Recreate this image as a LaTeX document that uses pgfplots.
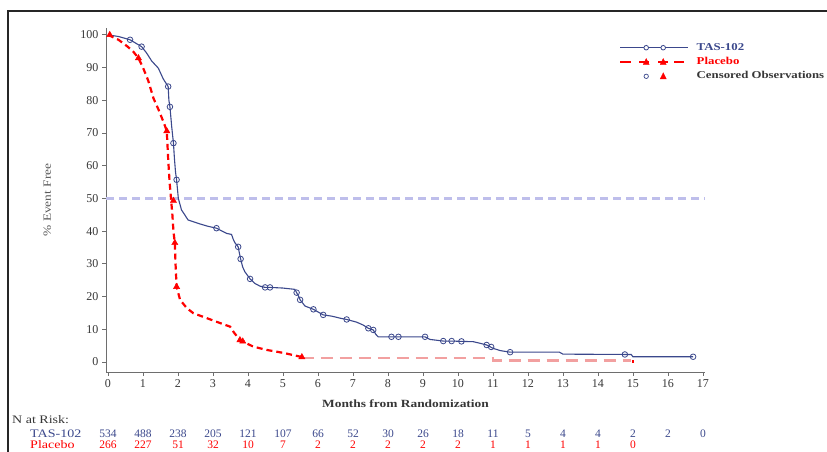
\documentclass[border=0pt]{standalone}
\usepackage{fontspec}
\setmainfont{Liberation Serif}
\newfontfamily\widefont[FakeStretch=1.22]{Liberation Serif}
\usepackage{pgfplots}
\pgfplotsset{compat=1.18}
\definecolor{tasblue}{RGB}{59,72,140}
\definecolor{pbored}{RGB}{255,0,0}
\definecolor{pbopink}{RGB}{242,160,160}
\definecolor{refline}{RGB}{190,190,235}
\definecolor{axgray}{RGB}{110,110,110}
\definecolor{txtgray}{RGB}{55,55,55}
\begin{document}
\begin{tikzpicture}
\useasboundingbox (0pt,0pt) rectangle (827pt,452pt);
\clip (0pt,0pt) rectangle (827pt,452pt);
\fill[white] (0pt,0pt) rectangle (827pt,452pt);
\draw[line width=2pt, black!85] (8pt,-20pt) -- (8pt,441pt) -- (850pt,441pt);
\begin{axis}[
  at={(106pt,80pt)}, anchor=south west,
  width=599pt, height=344pt, scale only axis,
  xmin=-0.057, xmax=17.06, ymin=-3.06, ymax=102.1,
  axis x line*=bottom, axis y line*=left,
  axis line style={axgray, line width=0.9pt, -},
  xtick={0,1,...,17}, ytick={0,10,...,100},
  tick align=outside, major tick length=4pt,
  tick style={axgray, line width=0.8pt},
  ticklabel style={font=\fontsize{12}{14}\selectfont, text=txtgray},
  /pgf/number format/assume math mode=true,
  xlabel={\textbf{Months from Randomization}},
  xlabel style={at={(axis description cs:0.5,-0.093)}, anchor=center, font=\widefont\fontsize{11}{13}\selectfont, text=txtgray},
  ylabel={\% Event Free},
  ylabel style={at={(axis description cs:-0.098,0.5)}, anchor=center, font=\widefont\fontsize{11}{13}\selectfont, text=black!65},
  clip=false,
  legend style={draw=none, fill=none, at={(axis cs:14.6,91.7)}, anchor=west, inner sep=0pt,
    row sep=3.3pt, column sep=8pt, font=\widefont\bfseries\fontsize{10.5}{12}\selectfont,
    nodes={inner sep=0pt, text height=8pt, text depth=3pt}},
  legend cell align=left,
]
\addlegendimage{legend image code/.code={
  \draw[tasblue, line width=1pt] (0pt,0pt) -- (68pt,0pt);
  \draw[tasblue, line width=0.8pt, fill=white] (26pt,0pt) circle (2.3pt) (43pt,0pt) circle (2.3pt);
}}
\addlegendentry{\textcolor{tasblue}{TAS-102}}
\addlegendimage{legend image code/.code={
  \draw[pbored, line width=2.2pt] (0pt,0pt) -- (11pt,0pt) (19pt,0pt) -- (29pt,0pt) (38pt,0pt) -- (48pt,0pt) (54pt,0pt) -- (64pt,0pt);
  \fill[pbored] (23pt,-2.5pt) -- (29pt,-2.5pt) -- (26pt,3.5pt) -- cycle;
  \fill[pbored] (40pt,-2.5pt) -- (46pt,-2.5pt) -- (43pt,3.5pt) -- cycle;
}}
\addlegendentry{\textcolor{pbored}{Placebo}}
\addlegendimage{legend image code/.code={
  \draw[tasblue, line width=0.7pt] (26pt,0pt) circle (2.2pt);
  \fill[pbored] (40pt,-2.5pt) -- (46pt,-2.5pt) -- (43pt,3.5pt) -- cycle;
}}
\addlegendentry{\textcolor{txtgray}{Censored Observations}}

% 50% reference line
\addplot[forget plot, refline, line width=2.8pt, dash pattern=on 8pt off 5pt] coordinates {(-0.057,50) (17.05,50)};

% Placebo, early (bright red)
\addplot[forget plot, pbored, line width=2.2pt, dash pattern=on 6pt off 4pt] coordinates {
(0,100) (0.3,98.5) (0.55,96.5) (0.72,94.9) (0.87,92.9) (1.0,90) (1.15,86) (1.3,80.6) (1.45,77)
(1.6,73) (1.68,70.6) (1.72,62) (1.76,55) (1.8,50) (1.84,45) (1.87,40) (1.91,36.4) (1.93,30)
(1.96,23) (2.06,19) (2.25,16.5) (2.44,14.9) (2.8,13.5) (3.1,12.3) (3.49,10.8) (3.6,9) (3.77,6.7)
(3.96,5.7) (4.15,4.7) (4.53,3.7) (5.0,2.8) (5.3,2.1) (5.54,1.5)
};
% Placebo, late (pale)
\addplot[forget plot, pbopink, line width=2.4pt, dash pattern=on 12pt off 7pt] coordinates {
(5.54,1.2) (11.0,1.2) (11.0,0.5) (14.95,0.5)
};
\addplot[forget plot, pbored, line width=2pt] coordinates {(15.0,0.6) (15.0,-0.3)};

% TAS-102
\addplot[forget plot, tasblue, line width=1.1pt] coordinates {
(0,100) (0.3,99.5) (0.63,98.5) (0.96,96.4) (1.1,94.5) (1.25,92) (1.44,89.8) (1.58,86.5) (1.72,84.2)
(1.74,80) (1.77,78) (1.82,72) (1.87,66.9) (1.9,62) (1.93,58) (1.96,55.7) (2.01,50) (2.1,46.5)
(2.29,43.4) (2.63,42.2) (2.85,41.5) (3.1,40.9) (3.39,39.3) (3.53,39) (3.58,37.5) (3.63,36.4)
(3.72,35.2) (3.76,33) (3.79,31.5) (3.85,29) (3.91,27.6) (4.06,25.4) (4.2,24) (4.34,23.2)
(4.49,22.8) (4.63,22.8) (5.0,22.6) (5.34,22.2) (5.39,21.2) (5.45,20) (5.49,19.0) (5.63,17.1)
(5.87,16.1) (6.0,15.3) (6.15,14.4) (6.4,14) (6.63,13.4) (6.82,13.0) (7.1,12.2) (7.29,11.3)
(7.44,10.3) (7.58,9.8) (7.65,8.5) (7.72,7.7) (8.1,7.7) (8.3,7.7) (9.06,7.7) (9.2,6.9) (9.58,6.4)
(9.82,6.4) (10.1,6.3) (10.44,6.2) (10.6,5.8) (10.82,5.2) (11.0,4.2) (11.2,3.5) (11.49,3.0)
(12.9,3.0) (13.0,2.4) (14.77,2.3) (14.95,2.3) (15.0,1.6) (16.72,1.6)
};

% censored TAS-102
\addplot[forget plot, only marks, mark=o, mark size=2.8pt, tasblue, mark options={line width=0.8pt, fill=white}] coordinates {
(0.63,98.5) (0.96,96.4) (1.72,84.2) (1.77,78) (1.87,66.9) (1.96,55.7) (3.1,40.9) (3.72,35.2)
(3.79,31.5) (4.06,25.4) (4.49,22.8) (4.63,22.8) (5.39,21.2) (5.49,19.0) (5.87,16.1) (6.15,14.4)
(6.82,13.0) (7.44,10.3) (7.58,9.8) (8.1,7.7) (8.3,7.7) (9.06,7.7) (9.58,6.4) (9.82,6.4) (10.1,6.3)
(10.82,5.2) (10.95,4.6) (11.49,3.0) (14.77,2.3) (16.72,1.6)
};
% censored Placebo
\addplot[forget plot, only marks, mark=triangle*, mark size=3.6pt, pbored] coordinates {
(0.05,100) (0.87,92.9) (1.68,70.6) (1.87,49.3) (1.91,36.4) (1.96,23) (3.77,6.7) (3.85,6.3) (5.54,1.5)
};
\end{axis}
% Numbers at risk
\node[anchor=base west, inner sep=0pt, text=txtgray, font=\widefont\fontsize{11.5}{13}\selectfont] at (12pt,28pt) {N at Risk:};
\node[anchor=base west, inner sep=0pt, text=tasblue, font=\widefont\fontsize{11.5}{13}\selectfont] at (30pt,14pt) {TAS-102};
\node[anchor=base west, inner sep=0pt, text=pbored, font=\widefont\fontsize{11.5}{13}\selectfont] at (30pt,3pt) {Placebo};
\foreach \i/\n in {0/534,1/488,2/238,3/205,4/121,5/107,6/66,7/52,8/30,9/26,10/18,11/11,12/5,13/4,14/4,15/2,16/2,17/0}
  \node[anchor=base, inner sep=0pt, text=tasblue, font=\fontsize{11.5}{13}\selectfont] at ({(108+35*\i)*1pt},14pt) {\n};
\foreach \i/\n in {0/266,1/227,2/51,3/32,4/10,5/7,6/2,7/2,8/2,9/2,10/2,11/1,12/1,13/1,14/1,15/0}
  \node[anchor=base, inner sep=0pt, text=pbored, font=\fontsize{11.5}{13}\selectfont] at ({(108+35*\i)*1pt},3pt) {\n};
\end{tikzpicture}
\end{document}
